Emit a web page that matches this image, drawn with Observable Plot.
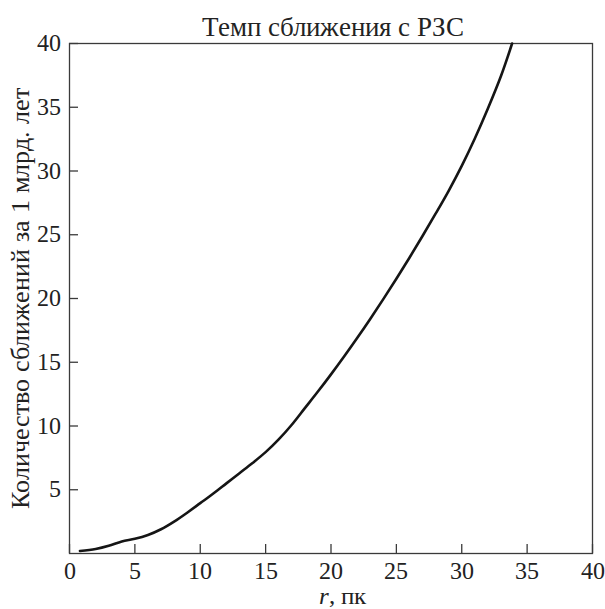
<!DOCTYPE html>
<html>
<head>
<meta charset="utf-8">
<script src="https://cdn.jsdelivr.net/npm/d3@7"></script>
<script src="https://cdn.jsdelivr.net/npm/@observablehq/plot@0.6"></script>
<style>
  @font-face { font-family: "ChartSerif"; src: local("Liberation Serif"), local("LiberationSerif"), local("Liberation Serif Regular"), local("LiberationSerif-Regular"); font-style: normal; }
  @font-face { font-family: "ChartSerif"; src: local("Liberation Serif Italic"), local("LiberationSerif-Italic"); font-style: italic; }
  html, body { margin: 0; padding: 0; background: #fff; }
</style>
</head>
<body>
<div id="chart"></div>
<script>
// Encounter rate with the red dwarf vs. distance r (pc)
const rValues = [0.8, 2, 3, 4, 5, 6, 7, 8, 9, 10, 11, 12, 13, 14, 15, 16, 17, 18, 19, 20,
                 21, 22, 23, 24, 25, 26, 27, 28, 29, 30, 31, 32, 33, 33.85];
const encounterValues = [0.2, 0.35, 0.6, 0.95, 1.15, 1.45, 1.9, 2.5, 3.2, 3.95, 4.7, 5.5, 6.3, 7.1, 7.95, 8.95, 10.1, 11.4, 12.7, 14.05,
                         15.45, 16.9, 18.4, 19.95, 21.55, 23.2, 24.9, 26.65, 28.45, 30.4, 32.55, 34.9, 37.45, 40];
const xTicks = [0, 5, 10, 15, 20, 25, 30, 35, 40];
const yTicks = [5, 10, 15, 20, 25, 30, 35, 40];
const titleText = "Темп сближения с РЗС";
const yLabelText = "Количество сближений за 1 млрд. лет";
const xLabelVar = "r";
const xLabelUnit = ", пк";

const points = rValues.map((r, i) => ({r, n: encounterValues[i]}));

const W = 605, H = 609;
const mL = 69, mR = 13, mT = 43, mB = 56;
const innerW = W - mL - mR, innerH = H - mT - mB;
const tickLen = 9;
const ink = "#222";
const frameInk = "#3a3a3a";
const serif = "ChartSerif, 'Liberation Serif', 'Times New Roman', serif";

const chart = Plot.plot({
  width: W,
  height: H,
  marginLeft: mL,
  marginRight: mR,
  marginTop: mT,
  marginBottom: mB,
  style: {fontFamily: serif, background: "#fff"},
  x: {domain: [0, 40]},
  y: {domain: [0, 40]},
  marks: [
    Plot.frame({stroke: frameInk, strokeWidth: 1.3}),
    // inward tick marks on the bottom and left edges
    Plot.tickX(xTicks, {x: d => d, insetTop: innerH - tickLen, stroke: frameInk, strokeWidth: 1.3}),
    Plot.tickY(yTicks, {y: d => d, insetRight: innerW - tickLen, stroke: frameInk, strokeWidth: 1.3}),
    Plot.axisX(xTicks, {tickSize: 0, tickPadding: 8, label: null, fontSize: 24, fontFamily: serif, textAnchor: "middle", fill: ink}),
    Plot.axisY(yTicks, {tickSize: 0, tickPadding: 9, label: null, fontSize: 24, fontFamily: serif, fill: ink}),
    Plot.line(points, {x: "r", y: "n", curve: "catmull-rom", stroke: "#151515", strokeWidth: 2.6}),
    Plot.text([titleText], {frameAnchor: "top", lineAnchor: "bottom", textAnchor: "middle", dy: -8, dx: 2, fontSize: 27, fontFamily: serif, fill: ink}),
    Plot.text([yLabelText], {frameAnchor: "left", rotate: -90, lineAnchor: "bottom", textAnchor: "middle", dx: -41, fontSize: 25.5, fontFamily: serif, fill: ink}),
    Plot.text([xLabelVar], {frameAnchor: "bottom", lineAnchor: "bottom", textAnchor: "end", dx: -2, dy: 50, fontSize: 25, fontStyle: "italic", fontFamily: serif, fill: ink}),
    Plot.text([xLabelUnit], {frameAnchor: "bottom", lineAnchor: "bottom", textAnchor: "start", dx: -2, dy: 50, fontSize: 25, fontFamily: serif, fill: ink})
  ]
});

document.getElementById("chart").append(chart);

// pin the resolved typography onto each label so it does not depend on inheritance
chart.querySelectorAll("text").forEach(el => {
  const cs = getComputedStyle(el);
  el.setAttribute("font-family", serif);
  el.style.fontFamily = serif;
  el.setAttribute("font-size", cs.fontSize);
  el.setAttribute("text-anchor", cs.textAnchor);
  if (cs.fontStyle === "italic") el.setAttribute("font-style", "italic");
});
</script>
</body>
</html>
